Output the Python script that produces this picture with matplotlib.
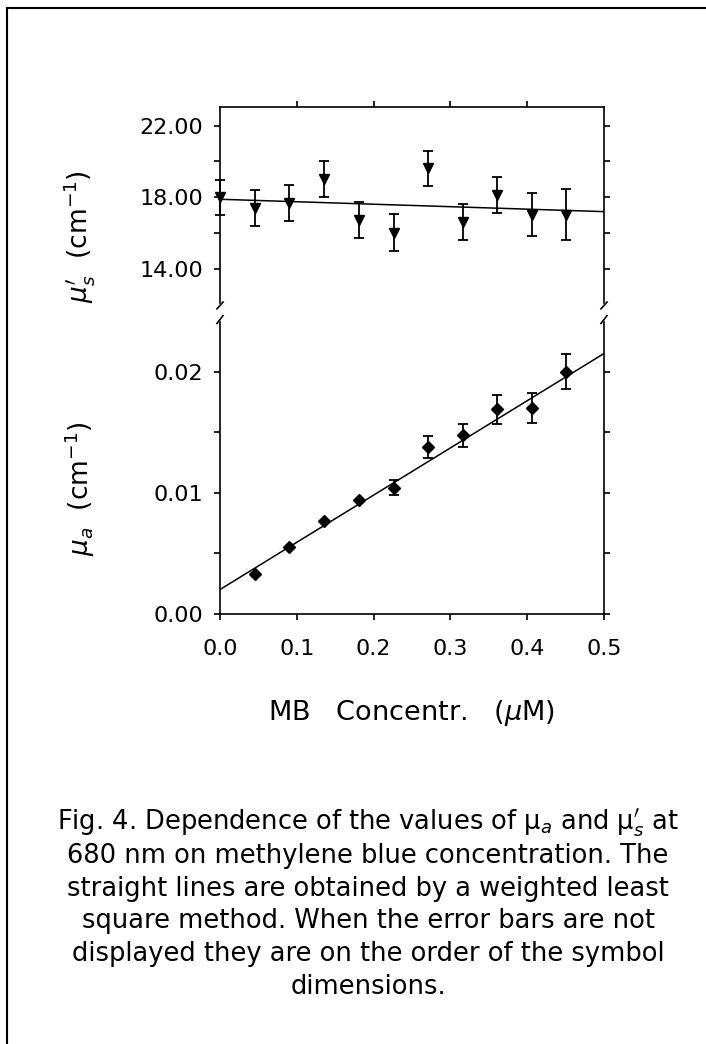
import numpy as np
import matplotlib
matplotlib.use("Agg")
import matplotlib.pyplot as plt
from matplotlib.lines import Line2D

plt.rcParams["font.family"] = "DejaVu Sans"
plt.rcParams["mathtext.fontset"] = "dejavusans"

# MB concentration (uM)
conc_s = [0.0, 0.045, 0.090, 0.136, 0.181, 0.226, 0.271, 0.316, 0.361, 0.406, 0.451]
# reduced scattering coefficient mu_s' (cm-1) and errors
mus = [18.0, 17.41, 17.68, 19.04, 16.73, 16.03, 19.61, 16.63, 18.13, 17.03, 17.03]
mus_err = [0.97, 1.0, 1.0, 1.0, 0.98, 1.02, 0.98, 1.0, 0.99, 1.19, 1.42]
mus_fit = [17.89, -1.38]  # intercept, slope

conc_a = [0.045, 0.090, 0.136, 0.181, 0.226, 0.271, 0.316, 0.361, 0.406, 0.451]
# absorption coefficient mu_a (cm-1) and errors (0 = hidden by symbol)
mua = [0.00328, 0.00552, 0.00765, 0.0094, 0.01044, 0.01378, 0.01475, 0.01691, 0.01700, 0.0200]
mua_err = [0, 0, 0, 0, 0.00058, 0.00094, 0.00097, 0.00119, 0.00122, 0.00143]
mua_fit = [0.00202, 0.03896]

x_ticks = [0.0, 0.1, 0.2, 0.3, 0.4, 0.5]
x_ticklabels = ["0.0", "0.1", "0.2", "0.3", "0.4", "0.5"]
mus_ticks = [14, 18, 22]
mus_ticklabels = ["14.00", "18.00", "22.00"]
mua_ticks = [0.0, 0.01, 0.02]
mua_ticklabels = ["0.00", "0.01", "0.02"]

caption_lines = [
    r"Fig. 4. Dependence of the values of μ$_{a}$ and μ$_{s}^{\prime}$ at",
    "680 nm on methylene blue concentration. The",
    "straight lines are obtained by a weighted least",
    "square method. When the error bars are not",
    "displayed they are on the order of the symbol",
    "dimensions.",
]

W, H = 706, 1044
fig = plt.figure(figsize=(W / 100, H / 100), dpi=100)


def px_axes(left, top, right, bottom):
    return fig.add_axes([left / W, 1 - bottom / H, (right - left) / W, (bottom - top) / H])


ax_s = px_axes(220, 107, 604, 303)
ax_a = px_axes(220, 322, 604, 614)

lw = 1.2
for ax in (ax_s, ax_a):
    for sp in ax.spines.values():
        sp.set_linewidth(lw)
    ax.set_xlim(0, 0.5)
    ax.tick_params(which="both", direction="out", width=lw, labelsize=16)
    ax.tick_params(which="major", length=4)
    ax.tick_params(which="minor", length=4)

xx = np.array([0.0, 0.5])

# upper panel: mu_s'
ax_s.spines["bottom"].set_visible(False)
ax_s.set_ylim(12.1, 23.04)
ax_s.errorbar(conc_s, mus, yerr=mus_err, fmt="none", ecolor="black",
              elinewidth=1.3, capsize=3.5, capthick=1.3, clip_on=False)
ax_s.plot(conc_s, mus, "v", color="black", markersize=7.5, clip_on=False, zorder=5)
ax_s.plot(xx, mus_fit[0] + mus_fit[1] * xx, color="black", lw=1.1)
ax_s.set_yticks(mus_ticks)
ax_s.set_yticklabels(mus_ticklabels)
ax_s.set_yticks([16, 20], minor=True)
ax_s.tick_params(axis="y", which="both", left=True, right=True, pad=8)
ax_s.set_xticks(x_ticks[1:-1])
ax_s.tick_params(axis="x", bottom=False, labelbottom=False, top=True, labeltop=False)
ax_s.set_ylabel(r"$\mu_{s}^{\prime}$  (cm$^{-1}$)", fontsize=19)
ax_s.yaxis.set_label_coords(-0.32, 0.34)

# lower panel: mu_a
ax_a.spines["top"].set_visible(False)
ax_a.set_ylim(0, 0.0241)
mask = np.array(mua_err) > 0
ax_a.errorbar(np.array(conc_a)[mask], np.array(mua)[mask], yerr=np.array(mua_err)[mask],
              fmt="none", ecolor="black", elinewidth=1.3, capsize=3.5, capthick=1.3)
ax_a.plot(conc_a, mua, "D", color="black", markersize=6.5, zorder=5)
ax_a.plot(xx, mua_fit[0] + mua_fit[1] * xx, color="black", lw=1.1)
ax_a.set_yticks(mua_ticks)
ax_a.set_yticklabels(mua_ticklabels)
ax_a.set_yticks([0.005, 0.015], minor=True)
ax_a.tick_params(axis="y", which="both", left=True, right=True, pad=8)
ax_a.set_xticks(x_ticks)
ax_a.set_xticklabels(x_ticklabels)
ax_a.tick_params(axis="x", top=False, pad=14)
ax_a.set_ylabel(r"$\mu_{a}$  (cm$^{-1}$)", fontsize=19)
ax_a.yaxis.set_label_coords(-0.32, 0.43)

# axis-break marks
for xa in (0, 1):
    ax_s.plot([xa - 0.008, xa + 0.008], [-0.03, 0.005], color="black", lw=lw,
              transform=ax_s.transAxes, clip_on=False)
    ax_a.plot([xa - 0.008, xa + 0.008], [0.995, 1.022], color="black", lw=lw,
              transform=ax_a.transAxes, clip_on=False)

fig.text(412 / W, 1 - 713 / H, r"MB   Concentr.   ($\mu$M)", fontsize=19.5,
         ha="center", va="center")

y0, dy = 823, 32.8
for i, line in enumerate(caption_lines):
    fig.text(368 / W, 1 - (y0 + i * dy) / H, line, fontsize=18.5, ha="center", va="center")

# page frame
fig.add_artist(Line2D([7 / W, 7 / W], [0, 1 - 8 / H], color="black", lw=1.5,
                      transform=fig.transFigure))
fig.add_artist(Line2D([7 / W, 1], [1 - 8 / H, 1 - 8 / H], color="black", lw=1.5,
                      transform=fig.transFigure))

fig.savefig("out.png", dpi=100)
